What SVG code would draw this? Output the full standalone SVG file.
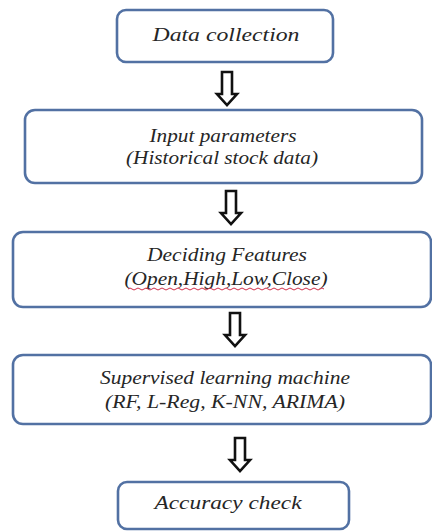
<svg xmlns="http://www.w3.org/2000/svg" width="432" height="531" viewBox="0 0 432 531">
  <style>
    .box { fill: #ffffff; stroke: #5271a3; stroke-width: 2.6; }
    .lbl { font-family: "Liberation Serif", "Times New Roman", serif; font-style: italic; font-size: 19px; fill: #262626; text-anchor: middle; }
    .arrow { fill: #ffffff; stroke: #111111; stroke-width: 2.6; stroke-linejoin: miter; }
    .squiggle { fill: none; stroke: #d0304a; stroke-width: 1; }
  </style>
  <defs>
    <!-- hollow down-arrow, origin at top centre of the shaft -->
    <path id="downArrow" class="arrow" d="M-5,0 H5 V22 H10 L0,33 L-10,22 H-5 Z"/>
  </defs>

  <rect width="432" height="531" fill="#ffffff"/>

  <g id="connectors">
    <use href="#downArrow" x="227" y="72"/>
    <use href="#downArrow" x="231" y="191"/>
    <use href="#downArrow" x="235" y="313"/>
    <use href="#downArrow" x="240" y="438"/>
  </g>

  <g id="data-collection">
    <rect class="box" x="117" y="10" width="216" height="52" rx="9"/>
    <text class="lbl" x="226" y="41" textLength="147" lengthAdjust="spacingAndGlyphs">Data collection</text>
  </g>

  <g id="input-parameters">
    <rect class="box" x="25" y="110" width="397" height="73" rx="10"/>
    <text class="lbl" x="223" y="142" textLength="147" lengthAdjust="spacingAndGlyphs">Input parameters</text>
    <text class="lbl" x="222" y="164" textLength="192" lengthAdjust="spacingAndGlyphs">(Historical stock data)</text>
  </g>

  <g id="deciding-features">
    <rect class="box" x="13" y="232" width="418" height="75" rx="10"/>
    <text class="lbl" x="227" y="261" textLength="160" lengthAdjust="spacingAndGlyphs">Deciding Features</text>
    <text class="lbl" x="226" y="285" textLength="203" lengthAdjust="spacingAndGlyphs">(Open,High,Low,Close)</text>
    <path class="squiggle" d="M128,289 q2,-2 4,0 t4,0 t4,0 t4,0 t4,0 t4,0 t4,0 t4,0 t4,0 t4,0 t4,0 t4,0 t4,0 t4,0 t4,0 t4,0 t4,0 t4,0 t4,0 t4,0 t4,0 t4,0 t4,0 t4,0 t4,0 t4,0 t4,0 t4,0 t4,0 t4,0 t4,0 t4,0 t4,0 t4,0 t4,0 t4,0 t4,0 t4,0 t4,0 t4,0 t4,0 t4,0 t4,0 t4,0 t4,0 t4,0 t4,0 t4,0 t4,0"/>
  </g>

  <g id="supervised-learning">
    <rect class="box" x="13" y="355" width="418" height="69" rx="10"/>
    <text class="lbl" x="225" y="384" textLength="250" lengthAdjust="spacingAndGlyphs">Supervised learning machine</text>
    <text class="lbl" x="225" y="408" textLength="240" lengthAdjust="spacingAndGlyphs">(RF, L-Reg, K-NN, ARIMA)</text>
  </g>

  <g id="accuracy-check">
    <rect class="box" x="118" y="482" width="231" height="47" rx="9"/>
    <text class="lbl" x="228" y="509" textLength="147" lengthAdjust="spacingAndGlyphs">Accuracy check</text>
  </g>
</svg>
